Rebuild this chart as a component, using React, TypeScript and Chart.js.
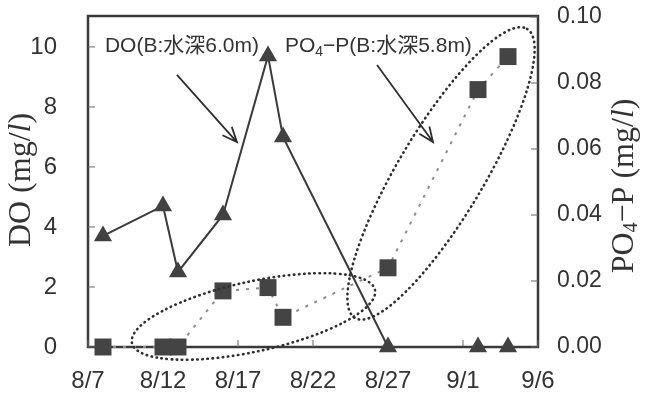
import React, { useEffect, useRef } from "react";
import { Chart, registerables } from "chart.js";
Chart.register(...registerables);

// ---- data ----
const xTickLabels = ["8/7", "8/12", "8/17", "8/22", "8/27", "9/1", "9/6"];
const doDates = ["8/8", "8/12", "8/13", "8/16", "8/19", "8/20", "8/27", "9/2", "9/4"];
const doValues = [3.7, 4.7, 2.5, 4.4, 9.7, 7.0, 0, 0, 0];
const po4Dates = ["8/8", "8/12", "8/13", "8/16", "8/19", "8/20", "8/27", "9/2", "9/4"];
const po4Values = [0, 0, 0, 0.017, 0.018, 0.009, 0.024, 0.078, 0.088];
const leftTicks = [0, 2, 4, 6, 8, 10];
const rightTicks = [0, 0.02, 0.04, 0.06, 0.08, 0.1];
const doLabel = "DO(B:水深6.0m)";
const po4LabelParts = ["PO", "4", "−P(B:水深5.8m)"];

// annotations in data space (day offset from 8/7, value)
const ellipse1 = { p1: [2.93, 0.0012], p2: [19.13, 0.0173], half: 35 };
const ellipse2 = { p1: [17.8, 0.0088], p2: [29.27, 0.0964], half: 43 };
const doArrow = { from: [5.93, 9.07], to: [9.93, 6.83] };
const po4Arrow = { from: [19.27, 9.4], to: [23.0, 6.83] };
const doLabelPos = [1.13, 10.03];
const po4LabelPos = [13.13, 10.03];

function dayIndex(md: string): number {
  const [m, d] = md.split("/").map(Number);
  return m === 8 ? d - 7 : 31 - 7 + d;
}

const INK = "#333333";
const SANS = "'Liberation Sans', 'Noto Sans CJK JP', sans-serif";
const SERIF = "'Liberation Serif', 'DejaVu Serif', serif";

function drawRich(ctx: CanvasRenderingContext2D, cx: number, cy: number, rot: number, parts: { t: string; f: string; dy?: number }[]) {
  ctx.save();
  ctx.translate(cx, cy);
  ctx.rotate(rot);
  let total = 0;
  for (const p of parts) { ctx.font = p.f; total += ctx.measureText(p.t).width; }
  let x = -total / 2;
  ctx.textBaseline = "middle";
  ctx.textAlign = "left";
  ctx.fillStyle = INK;
  for (const p of parts) {
    ctx.font = p.f;
    ctx.fillText(p.t, x, p.dy || 0);
    x += ctx.measureText(p.t).width;
  }
  ctx.restore();
}

const annotPlugin = {
  id: "annot",
  beforeDatasetsDraw(chart: any) {
    const { ctx, chartArea: a, scales } = chart;
    ctx.save();
    ctx.strokeStyle = "#3a3a3a";
    ctx.lineWidth = 2.5;
    ctx.strokeRect(a.left, a.top, a.right - a.left, a.bottom - a.top);
    ctx.lineWidth = 1;
    ctx.strokeStyle = "#666";
    ctx.beginPath();
    for (const v of leftTicks) { const y = scales.y.getPixelForValue(v); ctx.moveTo(a.left, y); ctx.lineTo(a.left + 7, y); }
    for (const v of rightTicks) { const y = scales.y1.getPixelForValue(v); ctx.moveTo(a.right, y); ctx.lineTo(a.right - 7, y); }
    for (const l of xTickLabels) { const x = scales.x.getPixelForValue(dayIndex(l)); ctx.moveTo(x, a.bottom); ctx.lineTo(x, a.bottom - 7); }
    ctx.stroke();
    ctx.restore();
  },
  afterDatasetsDraw(chart: any) {
    const { ctx, scales } = chart;
    const X = (v: number) => scales.x.getPixelForValue(v);
    const YL = (v: number) => scales.y.getPixelForValue(v);
    const YR = (v: number) => scales.y1.getPixelForValue(v);
    ctx.save();
    // ellipses
    ctx.strokeStyle = "#2e2e2e";
    ctx.lineWidth = 2.6;
    ctx.lineCap = "round";
    ctx.setLineDash([0.5, 4.6]);
    for (const e of [ellipse1, ellipse2]) {
      const x1 = X(e.p1[0]), y1 = YR(e.p1[1]), x2 = X(e.p2[0]), y2 = YR(e.p2[1]);
      const cx = (x1 + x2) / 2, cy = (y1 + y2) / 2;
      const r = Math.hypot(x2 - x1, y2 - y1) / 2;
      const ang = Math.atan2(y2 - y1, x2 - x1);
      ctx.beginPath();
      ctx.ellipse(cx, cy, r, e.half, ang, 0, Math.PI * 2);
      ctx.stroke();
    }
    ctx.setLineDash([]);
    // arrows
    ctx.strokeStyle = "#2e2e2e";
    ctx.lineWidth = 1.8;
    ctx.lineCap = "butt";
    for (const ar of [doArrow, po4Arrow]) {
      const fx = X(ar.from[0]), fy = YL(ar.from[1]), tx = X(ar.to[0]), ty = YL(ar.to[1]);
      const ang = Math.atan2(ty - fy, tx - fx);
      ctx.beginPath();
      ctx.moveTo(fx, fy);
      ctx.lineTo(tx, ty);
      const hl = 16, hw = 0.4;
      ctx.moveTo(tx - hl * Math.cos(ang - hw), ty - hl * Math.sin(ang - hw));
      ctx.lineTo(tx, ty);
      ctx.lineTo(tx - hl * Math.cos(ang + hw), ty - hl * Math.sin(ang + hw));
      ctx.stroke();
    }
    // labels
    ctx.fillStyle = INK;
    ctx.textBaseline = "middle";
    ctx.textAlign = "left";
    ctx.font = `21px ${SANS}`;
    ctx.fillText(doLabel, X(doLabelPos[0]), YL(doLabelPos[1]));
    let px = X(po4LabelPos[0]);
    const py = YL(po4LabelPos[1]);
    ctx.font = `21px ${SANS}`;
    ctx.fillText(po4LabelParts[0], px, py);
    px += ctx.measureText(po4LabelParts[0]).width;
    ctx.font = `14px ${SANS}`;
    ctx.fillText(po4LabelParts[1], px, py + 6);
    px += ctx.measureText(po4LabelParts[1]).width;
    ctx.font = `21px ${SANS}`;
    ctx.fillText(po4LabelParts[2], px, py);
    // axis titles
    drawRich(ctx, 22, 180, -Math.PI / 2, [
      { t: "DO (mg/", f: `32px ${SERIF}` },
      { t: "l", f: `italic 32px ${SERIF}` },
      { t: ")", f: `32px ${SERIF}` },
    ]);
    drawRich(ctx, 625, 186, -Math.PI / 2, [
      { t: "PO", f: `32px ${SERIF}` },
      { t: "4", f: `20px ${SERIF}`, dy: 7 },
      { t: "−P (mg/", f: `32px ${SERIF}` },
      { t: "l", f: `italic 32px ${SERIF}` },
      { t: ")", f: `32px ${SERIF}` },
    ]);
    ctx.restore();
  },
};

const zeroPad = (s: any) => { s.paddingTop = 0; s.paddingBottom = 0; s.paddingLeft = 0; s.paddingRight = 0; };

export default function App() {
  const ref = useRef<HTMLCanvasElement>(null);
  useEffect(() => {
    document.body.style.margin = "0";
    const doPts = doDates.map((d, i) => ({ x: dayIndex(d), y: doValues[i] }));
    const po4Pts = po4Dates.map((d, i) => ({ x: dayIndex(d), y: po4Values[i] }));
    const tickFont = { family: SANS, size: 24 };
    const rTickFont = { family: SANS, size: 23 };
    const chart = new Chart(ref.current!, {
      type: "line",
      data: {
        datasets: [
          {
            label: "DO",
            data: doPts,
            yAxisID: "y",
            borderColor: "#3a3a3a",
            borderWidth: 2,
            pointStyle: "triangle",
            pointRadius: 10.5,
            pointBackgroundColor: "#414141",
            pointBorderColor: "#414141",
            pointBorderWidth: 0,
            tension: 0,
            clip: false,
          } as any,
          {
            label: "PO4-P",
            data: po4Pts,
            yAxisID: "y1",
            borderColor: "#8c8c8c",
            borderWidth: 2,
            borderDash: [3, 7],
            pointStyle: "rect",
            pointRadius: 12,
            pointBackgroundColor: "#444444",
            pointBorderColor: "#444444",
            pointBorderWidth: 0,
            tension: 0,
            clip: false,
          } as any,
        ],
      },
      options: {
        responsive: false,
        animation: false,
        devicePixelRatio: 1,
        layout: { padding: { top: 16, left: 0, right: 0, bottom: 0 } },
        plugins: { legend: { display: false }, tooltip: { enabled: false } },
        scales: {
          x: {
            type: "linear",
            min: 0,
            max: 30,
            afterBuildTicks: (s: any) => { s.ticks = xTickLabels.map((l) => ({ value: dayIndex(l) })); },
            ticks: {
              autoSkip: false,
              maxRotation: 0,
              font: tickFont,
              color: INK,
              padding: 20,
              callback: (v: any) => xTickLabels.find((l) => dayIndex(l) === v) || "",
            },
            grid: { display: false, drawTicks: false },
            border: { display: false },
            afterFit: (s: any) => { s.height = 46; zeroPad(s); },
          },
          y: {
            position: "left",
            min: 0,
            max: 11.03,
            afterBuildTicks: (s: any) => { s.ticks = leftTicks.map((v) => ({ value: v })); },
            ticks: { font: tickFont, color: INK, padding: 31, callback: (v: any) => String(v) },
            grid: { display: false, drawTicks: false },
            border: { display: false },
            afterFit: (s: any) => { s.width = 88; zeroPad(s); },
          },
          y1: {
            position: "right",
            min: 0,
            max: 0.1003,
            afterBuildTicks: (s: any) => { s.ticks = rightTicks.map((v) => ({ value: v })); },
            ticks: { font: rTickFont, color: INK, padding: 19, callback: (v: any) => Number(v).toFixed(2) },
            grid: { display: false, drawTicks: false },
            border: { display: false },
            afterFit: (s: any) => { s.width = 109; zeroPad(s); },
          },
        },
      } as any,
      plugins: [annotPlugin],
    });
    return () => chart.destroy();
  }, []);
  return (
    <div style={{ position: "absolute", left: 0, top: 0, width: 647, height: 393, background: "#fff" }}>
      <canvas ref={ref} width={647} height={393} style={{ display: "block" }} />
    </div>
  );
}
